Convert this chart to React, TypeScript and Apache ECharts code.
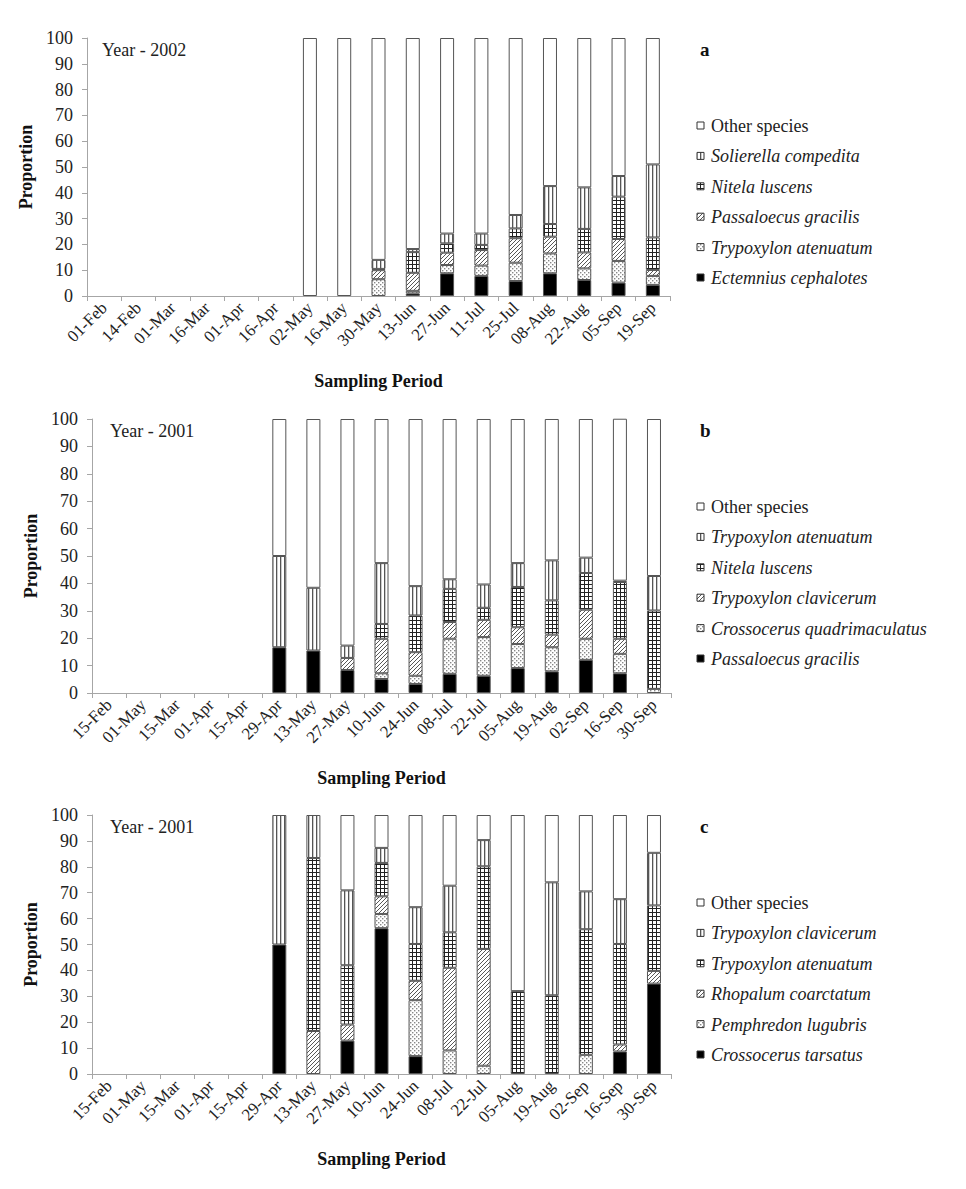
import React, { useEffect, useRef } from "react";
import * as echarts from "echarts";

const N = null;

// ---------- categories ----------
const catsA = ["01-Feb", "14-Feb", "01-Mar", "16-Mar", "01-Apr", "16-Apr", "02-May", "16-May", "30-May", "13-Jun", "27-Jun", "11-Jul", "25-Jul", "08-Aug", "22-Aug", "05-Sep", "19-Sep"];
const catsB = ["15-Feb", "01-May", "15-Mar", "01-Apr", "15-Apr", "29-Apr", "13-May", "27-May", "10-Jun", "24-Jun", "08-Jul", "22-Jul", "05-Aug", "19-Aug", "02-Sep", "16-Sep", "30-Sep"];
const catsC = ["15-Feb", "01-May", "15-Mar", "01-Apr", "15-Apr", "29-Apr", "13-May", "27-May", "10-Jun", "24-Jun", "08-Jul", "22-Jul", "05-Aug", "19-Aug", "02-Sep", "16-Sep", "30-Sep"];
const yTicks = { min: 0, max: 100, interval: 10 };

// ---------- panel a (Year 2002) ----------
const aEctemnius = [N, N, N, N, N, N, N, N, N, 1, 8.8, 7.8, 5.8, 8.8, 6.2, 5.2, 4.3];
const aTrypoxylonAt = [N, N, N, N, N, N, N, N, 6.5, 1, 3.2, 4, 7.1, 7.7, 4.5, 8.4, 3.5];
const aPassaloecus = [N, N, N, N, N, N, N, N, 3.5, 7, 4.8, 6, 9.5, 6.5, 6.2, 8.5, 2.3];
const aNitela = [N, N, N, N, N, N, N, N, 0.5, 8, 3.6, 2, 3.8, 4.9, 9.1, 16.4, 12.6];
const aSolierella = [N, N, N, N, N, N, N, N, 3.5, 1.2, 3.8, 4.4, 5.2, 14.7, 16.1, 8, 28.3];
const aOther = [N, N, N, N, N, N, 100, 100, 86, 81.8, 75.8, 75.8, 68.6, 57.4, 57.9, 53.5, 49];

// ---------- panel b (Year 2001) ----------
const bPassaloecus = [N, N, N, N, N, 16.7, 15.5, 8.4, 5.1, 3.3, 7, 6.3, 9.1, 7.9, 12.1, 7.2, N];
const bCrossocerusQ = [N, N, N, N, N, N, N, N, 2.1, 3, 12.8, 14.1, 8.8, 8.8, 7.7, 7.1, 1.5];
const bTrypoxylonCl = [N, N, N, N, N, N, N, 4.4, 12.6, 8.6, 6.1, 6.3, 6.1, 4.6, 10.6, 5.5, N];
const bNitela = [N, N, N, N, N, N, N, N, 5.4, 13.4, 12.1, 4.4, 14.7, 12.5, 13.4, 20.7, 28.6];
const bTrypoxylonAt = [N, N, N, N, N, 33.3, 22.9, 4.5, 22.2, 10.7, 3.5, 8.5, 8.7, 14.6, 5.6, 0.5, 12.6];
const bOther = [N, N, N, N, N, 50, 61.6, 82.7, 52.6, 61, 58.5, 60.4, 52.6, 51.6, 50.6, 59.1, 57.3];

// ---------- panel c (Year 2001) ----------
const cCrossocerusT = [N, N, N, N, N, 50, N, 12.9, 56.3, 6.9, N, N, N, N, N, 8.7, 34.9];
const cPemphredon = [N, N, N, N, N, N, N, N, 5.5, 21.6, 9.1, 3.2, N, N, 7.4, N, N];
const cRhopalum = [N, N, N, N, N, N, 16.6, 6.2, 6.8, 7.5, 31.9, 45.1, N, N, N, 2.7, 4.9];
const cTrypoxylonAt = [N, N, N, N, N, N, 66.8, 22.9, 12.9, 14.2, 13.7, 31.9, 32, 30.4, 48.5, 38.8, 25.3];
const cTrypoxylonCl = [N, N, N, N, N, 50, 16.6, 28.9, 5.8, 14.2, 18, 10.1, N, 43.6, 14.6, 17.3, 20.3];
const cOther = [N, N, N, N, N, N, N, 29.1, 12.7, 35.6, 27.3, 9.7, 68, 26, 29.5, 32.5, 14.6];

// ---------- fill patterns ----------
const svgUrl = (w: number, h: number, body: string) =>
  "data:image/svg+xml;charset=utf-8," +
  encodeURIComponent(
    `<svg xmlns='http://www.w3.org/2000/svg' width='${w}' height='${h}'><rect width='${w}' height='${h}' fill='#ffffff'/>${body}</svg>`
  );
const pat = (w: number, h: number, body: string) => ({
  image: svgUrl(w, h, body),
  repeat: "repeat",
  imageWidth: w,
  imageHeight: h,
});
const P_SOLID = "#000000";
const P_WHITE = "#ffffff";
const P_DOTS = pat(4, 4, "<rect x='0' y='0' width='1.4' height='1.4' fill='#888'/><rect x='2' y='2' width='1.4' height='1.4' fill='#888'/>");
const P_DIAG = pat(4, 4, "<path d='M0,4 L4,0 M-1,1 L1,-1 M3,5 L5,3' stroke='#444' stroke-width='0.9'/>");
const P_GRID = pat(4, 4, "<path d='M0.5,0 V4 M0,0.5 H4' stroke='#222' stroke-width='1'/>");
const P_VERT = pat(4, 4, "<rect x='0' y='0' width='1.3' height='4' fill='#555'/>");

const FONT = "'Liberation Serif', 'Times New Roman', 'DejaVu Serif', serif";

type Panel = {
  cats: string[];
  year: string;
  letter: string;
  grid: { left: number; top: number; width: number; height: number };
  series: { name: string; data: (number | null)[]; fill: any }[];
};

const panels: Panel[] = [
  {
    cats: catsA,
    year: "Year - 2002",
    letter: "a",
    grid: { left: 87, top: 38, width: 583, height: 258 },
    series: [
      { name: "Ectemnius cephalotes", data: aEctemnius, fill: P_SOLID },
      { name: "Trypoxylon atenuatum", data: aTrypoxylonAt, fill: P_DOTS },
      { name: "Passaloecus gracilis", data: aPassaloecus, fill: P_DIAG },
      { name: "Nitela luscens", data: aNitela, fill: P_GRID },
      { name: "Solierella compedita", data: aSolierella, fill: P_VERT },
      { name: "Other species", data: aOther, fill: P_WHITE },
    ],
  },
  {
    cats: catsB,
    year: "Year - 2001",
    letter: "b",
    grid: { left: 92, top: 419, width: 579, height: 274 },
    series: [
      { name: "Passaloecus gracilis", data: bPassaloecus, fill: P_SOLID },
      { name: "Crossocerus quadrimaculatus", data: bCrossocerusQ, fill: P_DOTS },
      { name: "Trypoxylon clavicerum", data: bTrypoxylonCl, fill: P_DIAG },
      { name: "Nitela luscens", data: bNitela, fill: P_GRID },
      { name: "Trypoxylon atenuatum", data: bTrypoxylonAt, fill: P_VERT },
      { name: "Other species", data: bOther, fill: P_WHITE },
    ],
  },
  {
    cats: catsC,
    year: "Year - 2001",
    letter: "c",
    grid: { left: 92, top: 815, width: 579, height: 259 },
    series: [
      { name: "Crossocerus tarsatus", data: cCrossocerusT, fill: P_SOLID },
      { name: "Pemphredon lugubris", data: cPemphredon, fill: P_DOTS },
      { name: "Rhopalum coarctatum", data: cRhopalum, fill: P_DIAG },
      { name: "Trypoxylon atenuatum", data: cTrypoxylonAt, fill: P_GRID },
      { name: "Trypoxylon clavicerum", data: cTrypoxylonCl, fill: P_VERT },
      { name: "Other species", data: cOther, fill: P_WHITE },
    ],
  },
];

function buildOption() {
  const grid: any[] = [];
  const xAxis: any[] = [];
  const yAxis: any[] = [];
  const series: any[] = [];
  const graphic: any[] = [];

  panels.forEach((p, i) => {
    grid.push({ ...p.grid, containLabel: false });
    xAxis.push({
      type: "category",
      gridIndex: i,
      data: p.cats,
      name: "Sampling Period",
      nameLocation: "middle",
      nameGap: 76,
      nameTextStyle: { fontFamily: FONT, fontSize: 18, fontWeight: "bold", color: "#111" },
      axisLine: { show: true, lineStyle: { color: "#a6a6a6", width: 1 } },
      axisTick: { show: true, length: 5, lineStyle: { color: "#a6a6a6" } },
      axisLabel: { rotate: 45, interval: 0, margin: 9, fontFamily: FONT, fontSize: 17, color: "#222" },
      splitLine: { show: false },
    });
    yAxis.push({
      type: "value",
      gridIndex: i,
      ...yTicks,
      name: "Proportion",
      nameLocation: "middle",
      nameRotate: 90,
      nameGap: 52,
      nameTextStyle: { fontFamily: FONT, fontSize: 18, fontWeight: "bold", color: "#111" },
      axisLine: { show: true, lineStyle: { color: "#a6a6a6", width: 1 } },
      axisTick: { show: true, length: 5, lineStyle: { color: "#a6a6a6" } },
      axisLabel: { margin: 14, fontFamily: FONT, fontSize: 18, color: "#222" },
      splitLine: { show: false },
    });
    p.series.forEach((s) => {
      series.push({
        type: "bar",
        name: `${s.name} (${p.letter})`,
        xAxisIndex: i,
        yAxisIndex: i,
        stack: "panel" + i,
        barWidth: 14,
        data: s.data,
        itemStyle: { color: s.fill, borderColor: "#555", borderWidth: 1 },
        emphasis: { disabled: true },
      });
    });

    const g = p.grid;
    graphic.push({
      type: "text",
      left: g.left + 15 + (i === 0 ? 0 : 3),
      top: g.top + 3,
      style: { text: p.year, fontFamily: FONT, fontSize: 18, fill: "#222" },
    });
    graphic.push({
      type: "text",
      left: 700,
      top: g.top + 2,
      style: { text: p.letter, fontFamily: FONT, fontSize: 19, fontWeight: "bold", fill: "#111" },
    });
    // legend (top to bottom: reversed stacking order)
    const legendItems = [...p.series].reverse();
    legendItems.forEach((s, k) => {
      const cy = g.top + 88 + k * 30.4;
      graphic.push({
        type: "rect",
        shape: { x: 697, y: cy - 4, width: 7, height: 7 },
        style: { fill: s.fill, stroke: "#333", lineWidth: 1 },
      });
      graphic.push({
        type: "text",
        x: 711,
        y: cy,
        style: {
          text: s.name,
          fontFamily: FONT,
          fontSize: 18,
          fontStyle: s.name === "Other species" ? "normal" : "italic",
          fill: "#222",
          verticalAlign: "middle",
          textVerticalAlign: "middle",
        },
      });
    });
  });

  return {
    animation: false,
    backgroundColor: "#ffffff",
    grid,
    xAxis,
    yAxis,
    series,
    graphic,
  };
}

export default function App() {
  const ref = useRef<HTMLDivElement>(null);
  useEffect(() => {
    if (!ref.current) return;
    const chart = echarts.init(ref.current, undefined, { renderer: "svg" });
    chart.setOption(buildOption() as any);
    return () => chart.dispose();
  }, []);
  return (
    <div
      ref={ref}
      style={{ position: "absolute", left: 0, top: 0, width: 966, height: 1189, background: "#fff" }}
    />
  );
}
